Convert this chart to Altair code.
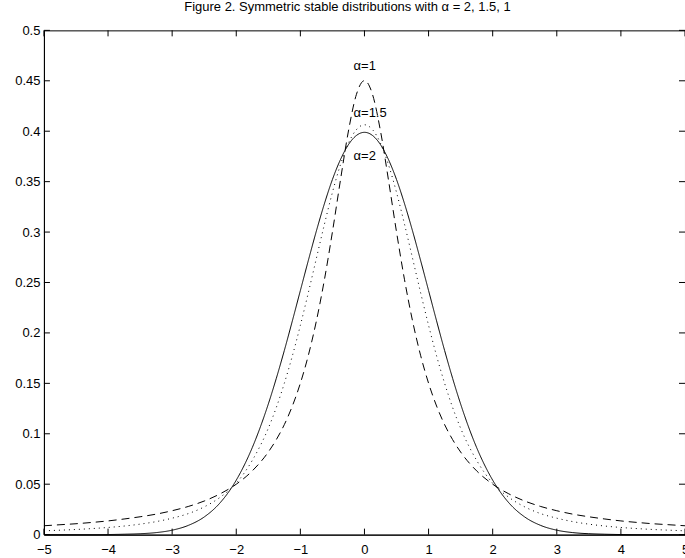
import altair as alt
import pandas as pd

# ---- data ----
x_vals = [-5, -4.75, -4.5, -4.25, -4, -3.75, -3.5, -3.25, -3, -2.75, -2.5, -2.25, -2,
          -1.75, -1.5, -1.375, -1.25, -1.125, -1, -0.875, -0.75, -0.625, -0.5, -0.375,
          -0.25, -0.125, 0, 0.125, 0.25, 0.375, 0.5, 0.625, 0.75, 0.875, 1, 1.125, 1.25,
          1.375, 1.5, 1.75, 2, 2.25, 2.5, 2.75, 3, 3.25, 3.5, 3.75, 4, 4.25, 4.5, 4.75, 5]

# alpha = 2 (solid)
alpha2 = [0.0000, 0.0000, 0.0000, 0.0000, 0.0001, 0.0004, 0.0009, 0.0020, 0.0044, 0.0091,
          0.0175, 0.0317, 0.0540, 0.0863, 0.1295, 0.1550, 0.1826, 0.2119, 0.2420, 0.2720,
          0.3011, 0.3281, 0.3521, 0.3718, 0.3867, 0.3958, 0.3989, 0.3958, 0.3867, 0.3718,
          0.3521, 0.3281, 0.3011, 0.2720, 0.2420, 0.2119, 0.1826, 0.1550, 0.1295, 0.0863,
          0.0540, 0.0317, 0.0175, 0.0091, 0.0044, 0.0020, 0.0009, 0.0004, 0.0001, 0.0000,
          0.0000, 0.0000, 0.0000]

# alpha = 1.5 (dotted)
alpha15 = [0.0038, 0.0044, 0.0051, 0.0060, 0.0071, 0.0085, 0.0104, 0.0129, 0.0163, 0.0208,
           0.0275, 0.0371, 0.0510, 0.0736, 0.1055, 0.1261, 0.1501, 0.1772, 0.2075, 0.2401,
           0.2740, 0.3077, 0.3393, 0.3667, 0.3881, 0.4016, 0.4064, 0.4016, 0.3881, 0.3667,
           0.3393, 0.3077, 0.2740, 0.2401, 0.2075, 0.1772, 0.1501, 0.1261, 0.1055, 0.0736,
           0.0510, 0.0371, 0.0275, 0.0208, 0.0163, 0.0129, 0.0104, 0.0085, 0.0071, 0.0060,
           0.0051, 0.0044, 0.0038]

# alpha = 1 (dashed)
alpha1 = [0.0088, 0.0098, 0.0108, 0.0121, 0.0136, 0.0155, 0.0177, 0.0203, 0.0237, 0.0279,
          0.0333, 0.0405, 0.0500, 0.0632, 0.0819, 0.0942, 0.1091, 0.1275, 0.1501, 0.1779,
          0.2119, 0.2527, 0.3001, 0.3514, 0.4002, 0.4366, 0.4502, 0.4366, 0.4002, 0.3514,
          0.3001, 0.2527, 0.2119, 0.1779, 0.1501, 0.1275, 0.1091, 0.0942, 0.0819, 0.0632,
          0.0500, 0.0405, 0.0333, 0.0279, 0.0237, 0.0203, 0.0177, 0.0155, 0.0136, 0.0121,
          0.0108, 0.0098, 0.0088]

series_names = ["α=2", "α=1.5", "α=1"]
series_dash = [[1, 0], [1, 4], [8, 5]]

label_text = ["α=1", "α=1.5", "α=2"]
label_x = [-0.17, -0.17, -0.17]
label_y = [0.461, 0.414, 0.371]

x_ticks = [-5, -4, -3, -2, -1, 0, 1, 2, 3, 4, 5]
y_ticks = [0, 0.05, 0.1, 0.15, 0.2, 0.25, 0.3, 0.35, 0.4, 0.45, 0.5]

title_text = "Figure 2. Symmetric stable distributions with α = 2, 1.5, 1"

# ---- layout / style ----
W, H = 642, 505
FONT = "Liberation Sans"
TICK = 6

rows = []
for name, ys in zip(series_names, [alpha2, alpha15, alpha1]):
    for xv, yv in zip(x_vals, ys):
        rows.append({"x": xv, "y": yv, "series": name})
df = pd.DataFrame(rows)

xt = pd.DataFrame({"x": x_ticks})
yt = pd.DataFrame({"y": y_ticks})
lab = pd.DataFrame({"x": label_x, "y": label_y, "t": label_text})

xscale = alt.Scale(domain=[-5, 5], nice=False, zero=False)
yscale = alt.Scale(domain=[0, 0.5], nice=False, zero=False)

xaxis = alt.Axis(values=x_ticks, format="d", title=None, grid=False, ticks=False, tickSize=0,
                 domain=True, domainColor="black", domainWidth=1, labelFont=FONT,
                 labelFontSize=13, labelColor="black", labelPadding=9, labelFlush=False)
yaxis = alt.Axis(values=y_ticks, format=".2~f", title=None, grid=False, ticks=False, tickSize=0,
                 domain=True, domainColor="black", domainWidth=1, labelFont=FONT,
                 labelFontSize=13, labelColor="black", labelPadding=4, labelFlush=False)

X = lambda: alt.X("x:Q", scale=xscale, axis=xaxis)
Y = lambda: alt.Y("y:Q", scale=yscale, axis=yaxis)

lines = alt.Chart(df).mark_line(color="black", strokeWidth=1, interpolate="monotone").encode(
    x=X(), y=Y(),
    strokeDash=alt.StrokeDash("series:N",
                              scale=alt.Scale(domain=series_names, range=series_dash),
                              legend=None),
)

labels = alt.Chart(lab).mark_text(align="left", baseline="alphabetic", font=FONT,
                                   fontSize=13, color="black").encode(x=X(), y=Y(), text="t:N")

bottom_ticks = alt.Chart(xt).mark_rule(color="black", strokeWidth=1).encode(
    x=X(), y=alt.value(H), y2=alt.value(H - TICK))
top_ticks = alt.Chart(xt).mark_rule(color="black", strokeWidth=1).encode(
    x=X(), y=alt.value(0), y2=alt.value(TICK))
left_ticks = alt.Chart(yt).mark_rule(color="black", strokeWidth=1).encode(
    y=Y(), x=alt.value(0), x2=alt.value(TICK))
right_ticks = alt.Chart(yt).mark_rule(color="black", strokeWidth=1).encode(
    y=Y(), x=alt.value(W), x2=alt.value(W - TICK))

chart = alt.layer(lines, labels, bottom_ticks, top_ticks, left_ticks, right_ticks).properties(
    width=W, height=H,
    title=alt.TitleParams(text=title_text, font=FONT, fontSize=13, fontWeight="normal",
                          color="black", anchor="middle", baseline="alphabetic",
                          frame="group", offset=0, dx=-17),
    autosize=alt.AutoSizeParams(type="none"),
    padding={"left": 44, "top": 30, "right": 0, "bottom": 23},
    background="white",
).configure_view(stroke="black", strokeWidth=1)

chart.save("out.html", embed_options={"renderer": "svg", "actions": False})
